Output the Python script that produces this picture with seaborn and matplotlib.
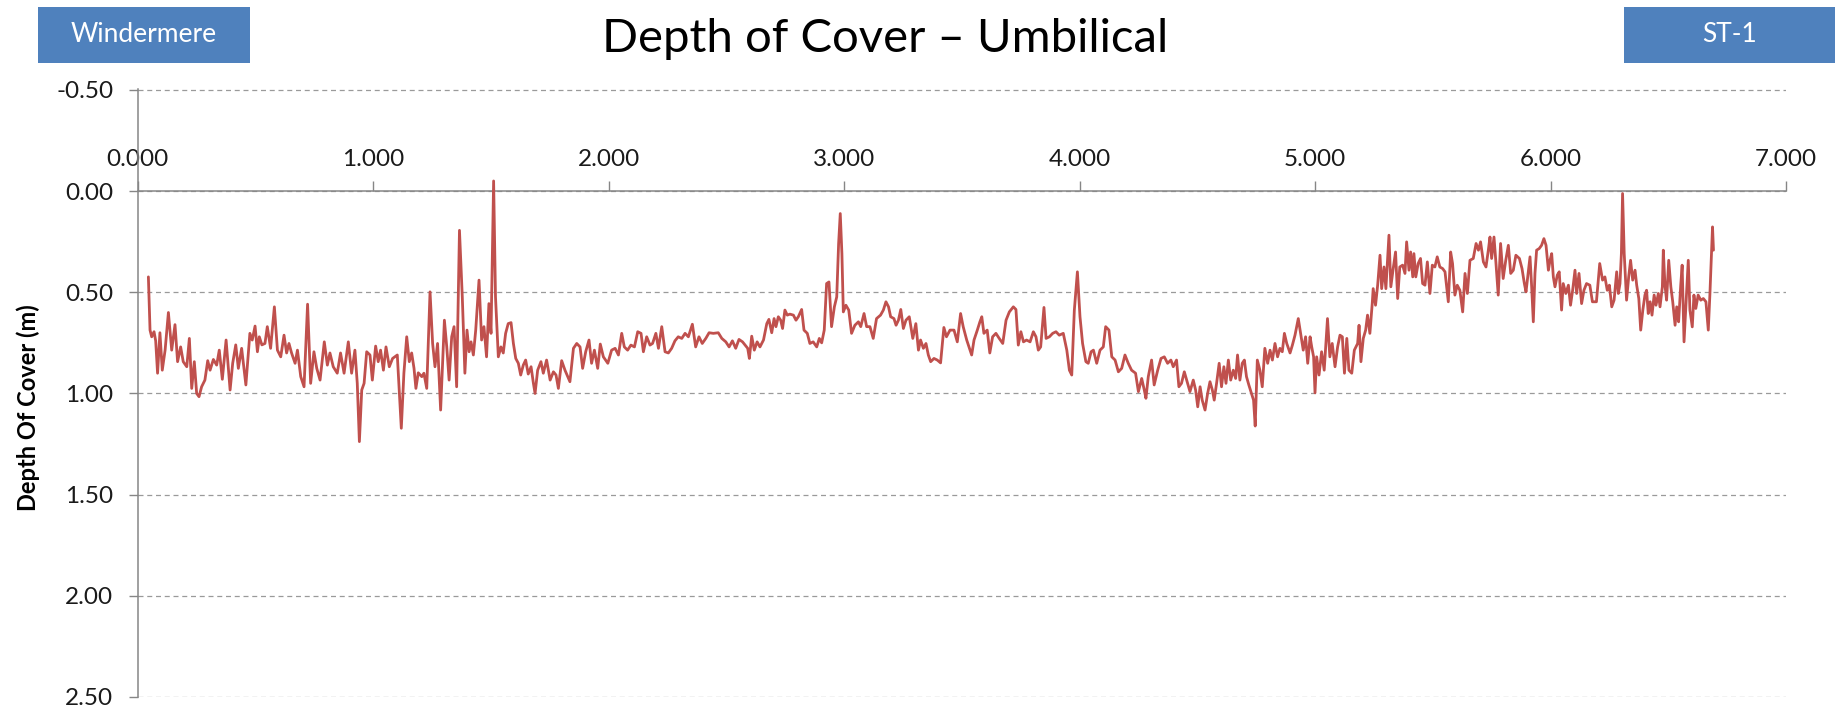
import numpy as np
import pandas as pd
import matplotlib
matplotlib.use('Agg')
import matplotlib.pyplot as plt
from matplotlib.patches import Rectangle
from matplotlib.ticker import FixedLocator, StrMethodFormatter
import seaborn as sns

kp_a = [0.045, 0.052, 0.059, 0.069, 0.076, 0.084, 0.094, 0.104, 0.116, 0.130,
        0.144, 0.158, 0.169, 0.182, 0.193, 0.208, 0.219, 0.229, 0.240, 0.250,
        0.260, 0.271, 0.285, 0.297, 0.307, 0.321, 0.335, 0.346, 0.359, 0.375,
        0.392, 0.403, 0.416, 0.427, 0.441, 0.459, 0.476, 0.486, 0.498, 0.508,
        0.516, 0.527, 0.540, 0.550, 0.564, 0.580, 0.593, 0.607, 0.621, 0.632,
        0.642, 0.653, 0.668, 0.678, 0.692, 0.706, 0.721, 0.734, 0.748, 0.760,
        0.774, 0.792, 0.805, 0.816, 0.830, 0.847, 0.861, 0.876, 0.894, 0.908,
        0.922, 0.932, 0.941, 0.951, 0.961, 0.972, 0.986, 0.996, 1.010, 1.021,
        1.031, 1.043, 1.054, 1.068, 1.082, 1.102, 1.119, 1.130, 1.142, 1.153,
        1.163, 1.173, 1.181, 1.191, 1.206, 1.215, 1.227, 1.241, 1.252, 1.262,
        1.273, 1.286, 1.302, 1.312, 1.322, 1.333, 1.343, 1.354, 1.366]
doc_a = [0.424, 0.687, 0.720, 0.695, 0.740, 0.900, 0.700, 0.885, 0.786, 0.600,
         0.786, 0.660, 0.843, 0.770, 0.843, 0.868, 0.728, 0.975, 0.843, 1.000,
         1.016, 0.967, 0.934, 0.838, 0.885, 0.832, 0.860, 0.786, 0.930, 0.736,
         0.983, 0.851, 0.760, 0.876, 0.777, 0.958, 0.703, 0.736, 0.667, 0.794,
         0.720, 0.760, 0.753, 0.670, 0.777, 0.572, 0.786, 0.819, 0.712, 0.800,
         0.753, 0.800, 0.851, 0.786, 0.917, 0.967, 0.559, 0.950, 0.794, 0.876,
         0.934, 0.745, 0.860, 0.800, 0.868, 0.900, 0.800, 0.900, 0.745, 0.900,
         0.786, 0.950, 1.238, 0.983, 0.950, 0.794, 0.810, 0.934, 0.766, 0.843,
         0.786, 0.885, 0.770, 0.868, 0.827, 0.810, 1.172, 0.900, 0.720, 0.843,
         0.800, 0.876, 0.975, 0.898, 0.917, 0.900, 0.975, 0.498, 0.753, 0.868,
         0.753, 1.082, 0.638, 0.770, 0.934, 0.720, 0.670, 0.967, 0.194]

kp_b = [1.378, 1.389, 1.398, 1.407, 1.415, 1.425, 1.435, 1.449, 1.460, 1.470,
        1.481, 1.491, 1.500, 1.511, 1.519, 1.531, 1.542, 1.552, 1.562, 1.573,
        1.585, 1.595, 1.605, 1.616, 1.626, 1.637, 1.647, 1.658, 1.670, 1.680,
        1.687, 1.698, 1.712, 1.722, 1.736, 1.751, 1.765, 1.776, 1.786, 1.800,
        1.814, 1.835, 1.850, 1.864, 1.878, 1.889, 1.902, 1.916, 1.927, 1.939,
        1.953, 1.964, 1.977, 1.996, 2.012, 2.027, 2.041, 2.055, 2.066, 2.080,
        2.094, 2.109, 2.123, 2.137, 2.147, 2.161, 2.175, 2.186, 2.200, 2.211,
        2.225, 2.239, 2.253, 2.267, 2.281, 2.295, 2.310, 2.324, 2.338, 2.355,
        2.369, 2.383, 2.397, 2.412, 2.426, 2.444, 2.465, 2.480, 2.497, 2.511,
        2.525, 2.539, 2.553, 2.568, 2.579, 2.590, 2.597, 2.607, 2.618, 2.630,
        2.642, 2.657, 2.671, 2.680]
doc_b = [0.523, 0.900, 0.687, 0.794, 0.745, 0.810, 0.687, 0.440, 0.736, 0.670,
         0.819, 0.556, 0.703, -0.050, 0.523, 0.819, 0.770, 0.800, 0.703, 0.655,
         0.650, 0.753, 0.827, 0.851, 0.909, 0.860, 0.835, 0.904, 0.868, 0.950,
         1.000, 0.885, 0.843, 0.900, 0.835, 0.934, 0.893, 0.909, 0.975, 0.838,
         0.885, 0.942, 0.777, 0.753, 0.770, 0.876, 0.794, 0.736, 0.851, 0.786,
         0.876, 0.756, 0.819, 0.851, 0.786, 0.777, 0.810, 0.703, 0.770, 0.786,
         0.761, 0.770, 0.695, 0.703, 0.794, 0.720, 0.761, 0.753, 0.703, 0.777,
         0.670, 0.794, 0.800, 0.777, 0.740, 0.720, 0.728, 0.703, 0.720, 0.658,
         0.770, 0.720, 0.753, 0.728, 0.700, 0.703, 0.700, 0.728, 0.745, 0.770,
         0.740, 0.777, 0.733, 0.745, 0.761, 0.777, 0.827, 0.717, 0.786, 0.745,
         0.770, 0.736, 0.655, 0.634]

kp_c = [2.692, 2.702, 2.710, 2.720, 2.730, 2.738, 2.748, 2.758, 2.769, 2.784,
        2.795, 2.805, 2.819, 2.829, 2.843, 2.854, 2.868, 2.883, 2.894, 2.904,
        2.915, 2.925, 2.935, 2.946, 2.958, 2.968, 2.976, 2.983, 2.990, 2.996,
        3.007, 3.019, 3.031, 3.045, 3.060, 3.070, 3.084, 3.095, 3.109, 3.123,
        3.137, 3.154, 3.166, 3.177, 3.188, 3.197, 3.211, 3.220, 3.230, 3.240,
        3.251, 3.262, 3.276, 3.291, 3.304, 3.315, 3.324, 3.336, 3.347, 3.357,
        3.367, 3.381, 3.395, 3.409, 3.423, 3.434, 3.449, 3.466, 3.480, 3.494,
        3.505, 3.520, 3.534, 3.541, 3.551, 3.565, 3.576, 3.584, 3.593, 3.607,
        3.618, 3.630, 3.644, 3.658, 3.673, 3.687, 3.701, 3.718, 3.729, 3.739,
        3.750, 3.761, 3.774, 3.789, 3.803, 3.814, 3.824, 3.834, 3.848, 3.857,
        3.871, 3.885, 3.899, 3.913, 3.930, 3.945, 3.956, 3.966, 3.977, 3.990,
        4.001, 4.012, 4.026]
doc_c = [0.700, 0.630, 0.670, 0.621, 0.638, 0.679, 0.588, 0.613, 0.608, 0.613,
         0.638, 0.621, 0.585, 0.687, 0.703, 0.753, 0.745, 0.770, 0.728, 0.750,
         0.687, 0.457, 0.449, 0.670, 0.572, 0.523, 0.260, 0.111, 0.309, 0.597,
         0.564, 0.588, 0.703, 0.663, 0.646, 0.670, 0.605, 0.670, 0.670, 0.728,
         0.630, 0.613, 0.588, 0.547, 0.572, 0.621, 0.630, 0.663, 0.638, 0.585,
         0.679, 0.638, 0.621, 0.728, 0.655, 0.786, 0.736, 0.777, 0.753, 0.810,
         0.843, 0.827, 0.835, 0.849, 0.674, 0.720, 0.687, 0.687, 0.745, 0.605,
         0.670, 0.736, 0.786, 0.810, 0.736, 0.687, 0.646, 0.621, 0.703, 0.687,
         0.800, 0.720, 0.703, 0.728, 0.753, 0.638, 0.597, 0.572, 0.585, 0.761,
         0.695, 0.745, 0.736, 0.745, 0.695, 0.720, 0.786, 0.770, 0.575, 0.728,
         0.720, 0.703, 0.695, 0.712, 0.703, 0.786, 0.885, 0.909, 0.588, 0.399,
         0.621, 0.753, 0.843]

kp_d = [4.036, 4.048, 4.058, 4.072, 4.086, 4.100, 4.110, 4.124, 4.136, 4.150,
        4.164, 4.178, 4.192, 4.206, 4.220, 4.237, 4.249, 4.263, 4.274, 4.281,
        4.291, 4.305, 4.316, 4.331, 4.345, 4.359, 4.373, 4.387, 4.397, 4.411,
        4.421, 4.432, 4.444, 4.458, 4.468, 4.482, 4.492, 4.501, 4.511, 4.520,
        4.532, 4.543, 4.553, 4.563, 4.571, 4.581, 4.592, 4.602, 4.612, 4.621,
        4.631, 4.641, 4.652, 4.662, 4.670, 4.680, 4.690, 4.699, 4.708, 4.718,
        4.729, 4.738, 4.745, 4.754, 4.765, 4.775, 4.786, 4.798, 4.808, 4.818,
        4.829, 4.840, 4.850, 4.860, 4.869, 4.879, 4.893, 4.903, 4.914, 4.928,
        4.939, 4.949, 4.959, 4.968, 4.978, 4.985, 4.993, 4.999, 5.006, 5.016,
        5.027, 5.038, 5.052, 5.062, 5.072, 5.084, 5.095, 5.105, 5.115, 5.124,
        5.134, 5.143, 5.155, 5.166, 5.180, 5.186, 5.194, 5.204, 5.214, 5.222,
        5.232, 5.242, 5.246, 5.256, 5.265, 5.275, 5.282, 5.292, 5.300, 5.313,
        5.321, 5.331, 5.341, 5.350, 5.359]
doc_d = [0.851, 0.794, 0.786, 0.851, 0.786, 0.770, 0.670, 0.687, 0.819, 0.835,
         0.893, 0.876, 0.810, 0.851, 0.885, 0.900, 0.991, 0.926, 0.983, 1.024,
         0.917, 0.835, 0.958, 0.885, 0.827, 0.819, 0.851, 0.835, 0.868, 0.835,
         0.967, 0.950, 0.893, 0.950, 0.991, 0.934, 0.983, 1.066, 0.967, 1.033,
         1.082, 1.000, 0.942, 0.983, 1.033, 0.950, 0.851, 0.967, 0.868, 0.950,
         0.835, 0.934, 0.885, 0.926, 0.810, 0.934, 0.851, 0.835, 0.917, 0.958,
         1.000, 1.033, 1.161, 0.835, 0.885, 0.967, 0.777, 0.851, 0.786, 0.835,
         0.753, 0.819, 0.777, 0.794, 0.703, 0.753, 0.800, 0.761, 0.712, 0.630,
         0.712, 0.786, 0.720, 0.851, 0.720, 0.770, 0.819, 0.997, 0.819, 0.909,
         0.794, 0.885, 0.630, 0.819, 0.753, 0.868, 0.770, 0.712, 0.720, 0.900,
         0.728, 0.885, 0.900, 0.786, 0.753, 0.663, 0.843, 0.728, 0.687, 0.613,
         0.703, 0.556, 0.482, 0.564, 0.465, 0.317, 0.482, 0.375, 0.482, 0.218,
         0.473, 0.383, 0.301, 0.531, 0.375]

kp_e = [5.371, 5.381, 5.388, 5.398, 5.405, 5.414, 5.419, 5.427, 5.437, 5.447,
        5.456, 5.466, 5.476, 5.487, 5.497, 5.508, 5.518, 5.529, 5.541, 5.551,
        5.565, 5.575, 5.583, 5.593, 5.603, 5.614, 5.626, 5.636, 5.646, 5.657,
        5.671, 5.683, 5.693, 5.702, 5.714, 5.725, 5.735, 5.742, 5.749, 5.759,
        5.767, 5.777, 5.787, 5.798, 5.809, 5.820, 5.830, 5.841, 5.852, 5.867,
        5.878, 5.888, 5.895, 5.905, 5.912, 5.919, 5.926, 5.933, 5.940, 5.951,
        5.961, 5.971, 5.980, 5.990, 5.997, 6.004, 6.011, 6.018, 6.028, 6.036,
        6.046, 6.053, 6.064, 6.075, 6.084, 6.093, 6.103, 6.110, 6.120, 6.131,
        6.141, 6.152, 6.166, 6.177, 6.194, 6.208, 6.220, 6.230, 6.240, 6.249,
        6.259, 6.269, 6.280, 6.287, 6.294, 6.300, 6.305, 6.312, 6.322, 6.331,
        6.339, 6.348, 6.358, 6.365, 6.374, 6.382, 6.391, 6.400, 6.407, 6.414,
        6.422, 6.430, 6.439, 6.447, 6.457, 6.464, 6.474, 6.478, 6.485, 6.492,
        6.501, 6.510, 6.518, 6.528, 6.535, 6.543, 6.552, 6.558, 6.566, 6.574,
        6.584, 6.591, 6.601, 6.608, 6.616, 6.626, 6.637, 6.648, 6.659, 6.669,
        6.676, 6.683, 6.687, 6.691]
doc_e = [0.366, 0.407, 0.251, 0.391, 0.301, 0.424, 0.309, 0.424, 0.358, 0.333,
         0.457, 0.465, 0.350, 0.506, 0.366, 0.375, 0.325, 0.375, 0.383, 0.399,
         0.547, 0.301, 0.358, 0.514, 0.465, 0.490, 0.597, 0.407, 0.506, 0.342,
         0.333, 0.259, 0.292, 0.251, 0.350, 0.375, 0.292, 0.227, 0.333, 0.227,
         0.350, 0.514, 0.259, 0.432, 0.342, 0.268, 0.407, 0.391, 0.317, 0.333,
         0.383, 0.457, 0.498, 0.399, 0.325, 0.473, 0.646, 0.407, 0.292, 0.284,
         0.268, 0.235, 0.268, 0.391, 0.342, 0.309, 0.424, 0.473, 0.415, 0.399,
         0.588, 0.457, 0.506, 0.465, 0.564, 0.490, 0.391, 0.506, 0.407, 0.556,
         0.490, 0.457, 0.465, 0.547, 0.547, 0.358, 0.440, 0.424, 0.490, 0.465,
         0.572, 0.539, 0.399, 0.506, 0.457, 0.309, 0.012, 0.309, 0.539, 0.424,
         0.342, 0.440, 0.391, 0.465, 0.531, 0.687, 0.588, 0.514, 0.490, 0.605,
         0.547, 0.613, 0.514, 0.564, 0.506, 0.572, 0.473, 0.292, 0.465, 0.539,
         0.342, 0.473, 0.547, 0.663, 0.572, 0.646, 0.465, 0.366, 0.745, 0.564,
         0.342, 0.588, 0.671, 0.514, 0.580, 0.514, 0.539, 0.531, 0.547, 0.687,
         0.506, 0.292, 0.177, 0.292]

x_ticks = [0, 1, 2, 3, 4, 5, 6, 7]
y_ticks = [-0.5, 0.0, 0.5, 1.0, 1.5, 2.0, 2.5]

title = 'Depth of Cover \u2013 Umbilical'
y_label = 'Depth Of Cover (m)'
left_tag = 'Windermere'
right_tag = 'ST-1'

df = pd.DataFrame({
    'KP': kp_a + kp_b + kp_c + kp_d + kp_e,
    'DOC': doc_a + doc_b + doc_c + doc_d + doc_e,
})

sns.set_theme(style='white')
plt.rcParams['font.family'] = ['Lato', 'DejaVu Sans']
plt.rcParams['axes.unicode_minus'] = False

axis_grey = '#868686'
tag_blue = '#4F81BD'

fig = plt.figure(figsize=(18.47, 7.12), dpi=100)
ax = fig.add_axes([0.0746, 0.0205, 0.8925, 0.8538])

sns.lineplot(data=df, x='KP', y='DOC', ax=ax, color='#C0504D',
             linewidth=2.0, sort=False, estimator=None, zorder=4)

ax.set_xlim(0, 7)
ax.set_ylim(2.502, -0.502)
ax.set_xlabel('')
ax.set_ylabel('')

# x axis sits on the 0.00 line, ticks and labels above it
ax.xaxis.tick_top()
ax.spines['top'].set_position(('data', 0))
ax.spines['bottom'].set_visible(False)
ax.spines['right'].set_visible(False)
for s in ['top', 'left']:
    ax.spines[s].set_color(axis_grey)
    ax.spines[s].set_linewidth(1.1)
    ax.spines[s].set_zorder(3)

ax.xaxis.set_major_locator(FixedLocator(x_ticks))
ax.xaxis.set_major_formatter(StrMethodFormatter('{x:.3f}'))
ax.yaxis.set_major_locator(FixedLocator(y_ticks))
ax.yaxis.set_major_formatter(StrMethodFormatter('{x:.2f}'))
ax.tick_params(axis='x', direction='out', length=7, width=1.0, color=axis_grey,
               labelsize=17.5, labelcolor='#1a1a1a', pad=8)
ax.tick_params(axis='y', direction='out', length=6.5, width=1.0, color=axis_grey,
               labelsize=17.5, labelcolor='#1a1a1a', pad=11, left=True)

ax.grid(axis='y', linestyle=(0, (4, 3)), color='#9a9a9a', linewidth=0.9)
ax.grid(axis='x', visible=False)

fig.text(0.0152, 0.427, y_label, rotation=90, ha='center', va='center',
         fontsize=17, fontweight='bold', color='#000000')

fig.text(0.479, 0.945, title, ha='center', va='center', fontsize=34, color='#000000')

fig.patches.append(Rectangle((0.0204, 0.9115), 0.1150, 0.0787, transform=fig.transFigure,
                             facecolor=tag_blue, edgecolor='none'))
fig.text(0.0779, 0.951, left_tag, ha='center', va='center', fontsize=19, color='white')
fig.patches.append(Rectangle((0.8793, 0.9115), 0.1142, 0.0787, transform=fig.transFigure,
                             facecolor=tag_blue, edgecolor='none'))
fig.text(0.9364, 0.951, right_tag, ha='center', va='center', fontsize=19, color='white')

fig.savefig('out.png', dpi=100)
